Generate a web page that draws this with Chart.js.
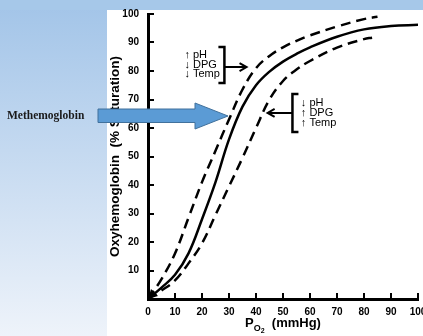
<!DOCTYPE html>
<html>
<head>
<meta charset="utf-8">
<script src="https://cdn.jsdelivr.net/npm/chart.js@4"></script>
<style>
  html, body { margin: 0; padding: 0; background: #fff; }
  canvas { display: block; }
</style>
</head>
<body>
<canvas id="odc" width="423" height="336"></canvas>
<script>
// oxygen dissociation curves
const po2Normal = [0, 5, 10, 15, 20, 25, 30, 35, 40, 45, 50, 55, 60, 70, 80, 90, 100];
const satNormal = [0, 4, 8.5, 16, 28, 41, 56, 67.5, 75, 79.8, 83.3, 86, 88.3, 92, 94.6, 95.8, 96.2];

const po2Left = [0, 5, 10, 15, 20, 25, 30, 35, 40, 45, 50, 55, 60, 70, 80, 85];
const satLeft = [0, 7, 16, 28.5, 41, 52, 63, 73.5, 81, 85.3, 88.3, 90.6, 92.5, 95.6, 98.2, 99];

const po2Right = [0, 5, 10, 15, 20, 25, 30, 35, 40, 45, 50, 55, 60, 70, 80, 83];
const satRight = [0, 3, 6.5, 12.5, 19.5, 29.5, 39.5, 49.5, 60, 70, 76.5, 80.5, 83.5, 88.2, 91.2, 91.7];

const xTicks = [0, 10, 20, 30, 40, 50, 60, 70, 80, 90, 100];
const yTicks = [10, 20, 30, 40, 50, 60, 70, 80, 90, 100];

const leftNotes = ['\u2191 pH', '\u2193 DPG', '\u2193 Temp'];
const rightNotes = ['\u2193 pH', '\u2191 DPG', '\u2191 Temp'];

const pts = (xs, ys) => xs.map((x, i) => ({ x: x, y: ys[i] }));

const lineStyle = {
  borderColor: '#000',
  borderWidth: 2.5,
  pointRadius: 0,
  fill: false,
  tension: 0.4
};

const backdrop = {
  id: 'backdrop',
  beforeDraw(chart) {
    const ctx = chart.ctx;
    const g = ctx.createLinearGradient(0, 0, 0, 336);
    g.addColorStop(0, '#a2c4e8');
    g.addColorStop(1, '#eef3fa');
    ctx.save();
    ctx.fillStyle = g;
    ctx.fillRect(0, 0, 423, 336);
    ctx.fillStyle = '#a6c8e9';
    ctx.fillRect(0, 0, 423, 10);
    ctx.fillStyle = '#fff';
    ctx.fillRect(107, 10, 316, 326);
    ctx.restore();
  }
};

const overlay = {
  id: 'overlay',
  afterDraw(chart) {
    const ctx = chart.ctx;
    const xs = chart.scales.x, ys = chart.scales.y;
    const px = v => xs.getPixelForValue(v);
    const py = v => ys.getPixelForValue(v);
    ctx.save();

    // arrowhead at the origin
    const ox = px(0), oy = py(0);
    ctx.fillStyle = '#000';
    ctx.beginPath();
    ctx.moveTo(ox, oy);
    ctx.lineTo(ox + 3, oy - 10);
    ctx.lineTo(ox + 10, oy - 3);
    ctx.closePath();
    ctx.fill();

    ctx.strokeStyle = '#000';
    ctx.lineWidth = 2.5;

    // left bracket + arrow
    let bx = px(28.3);
    ctx.beginPath();
    ctx.moveTo(bx - 6, py(88.4));
    ctx.lineTo(bx, py(88.4));
    ctx.lineTo(bx, py(75.8));
    ctx.lineTo(bx - 6, py(75.8));
    ctx.stroke();
    let ay = py(81.4), ax = px(36.5);
    ctx.lineWidth = 2;
    ctx.beginPath();
    ctx.moveTo(bx, ay);
    ctx.lineTo(ax, ay);
    ctx.moveTo(ax - 7, ay - 4);
    ctx.lineTo(ax, ay);
    ctx.lineTo(ax - 7, ay + 4);
    ctx.stroke();

    // right bracket + arrow
    bx = px(53.5);
    ctx.lineWidth = 2.5;
    ctx.beginPath();
    ctx.moveTo(bx + 6, py(71.9));
    ctx.lineTo(bx, py(71.9));
    ctx.lineTo(bx, py(58.6));
    ctx.lineTo(bx + 6, py(58.6));
    ctx.stroke();
    ay = py(65.3); ax = px(44.3);
    ctx.lineWidth = 2;
    ctx.beginPath();
    ctx.moveTo(bx, ay);
    ctx.lineTo(ax, ay);
    ctx.moveTo(ax + 7, ay - 4);
    ctx.lineTo(ax, ay);
    ctx.lineTo(ax + 7, ay + 4);
    ctx.stroke();

    ctx.fillStyle = '#000';
    ctx.font = '11px "Liberation Sans", Arial, sans-serif';
    ctx.textBaseline = 'middle';
    ctx.textAlign = 'left';
    [85.6, 82.1, 78.9].forEach((v, i) => ctx.fillText(leftNotes[i], px(13.5), py(v)));
    [68.8, 65.3, 61.8].forEach((v, i) => ctx.fillText(rightNotes[i], px(56.6), py(v)));

    // x axis title with subscript
    ctx.textBaseline = 'alphabetic';
    const big = 'bold 13px "Liberation Sans", Arial, sans-serif';
    const mid = 'bold 9px "Liberation Sans", Arial, sans-serif';
    const sml = 'bold 7px "Liberation Sans", Arial, sans-serif';
    const parts = [['P', big, 0], ['O', mid, 4], ['2', sml, 6], ['  (mmHg)', big, 0]];
    let w = 0;
    parts.forEach(p => { ctx.font = p[1]; w += ctx.measureText(p[0]).width; });
    let tx = (xs.left + xs.right) / 2 - w / 2;
    const base = 327;
    parts.forEach(p => {
      ctx.font = p[1];
      ctx.fillText(p[0], tx, base + p[2]);
      tx += ctx.measureText(p[0]).width;
    });

    // Methemoglobin label and blue arrow
    ctx.font = 'bold 11.5px "Liberation Serif", "Times New Roman", serif';
    ctx.fillStyle = '#1a1a1a';
    ctx.textBaseline = 'middle';
    ctx.fillText('Methemoglobin', 7, 116);
    ctx.fillStyle = '#5b9bd5';
    ctx.strokeStyle = '#41719c';
    ctx.lineWidth = 1;
    ctx.beginPath();
    ctx.moveTo(98, 109);
    ctx.lineTo(195, 109);
    ctx.lineTo(195, 103);
    ctx.lineTo(228, 116);
    ctx.lineTo(195, 129);
    ctx.lineTo(195, 122.5);
    ctx.lineTo(98, 122.5);
    ctx.closePath();
    ctx.fill();
    ctx.stroke();
    ctx.restore();
  }
};

new Chart(document.getElementById('odc'), {
  type: 'line',
  data: {
    datasets: [
      Object.assign({ label: 'Normal', data: pts(po2Normal, satNormal) }, lineStyle),
      Object.assign({ label: 'Left shift', data: pts(po2Left, satLeft), borderDash: [10, 6] }, lineStyle),
      Object.assign({ label: 'Right shift', data: pts(po2Right, satRight), borderDash: [10, 6] }, lineStyle)
    ]
  },
  options: {
    responsive: false,
    animation: false,
    layout: { padding: { top: 14, right: 5, left: 0, bottom: 0 } },
    plugins: { legend: { display: false }, tooltip: { enabled: false } },
    scales: {
      x: {
        type: 'linear',
        min: 0, max: 100,
        afterBuildTicks: s => { s.ticks = xTicks.map(v => ({ value: v })); },
        afterFit: s => { s.height = 37; s.paddingLeft = 0; s.paddingRight = 0; },
        border: { color: '#000', width: 3 },
        grid: { drawOnChartArea: false, drawTicks: true, tickLength: -6, color: '#000', lineWidth: 2 },
        ticks: {
          color: '#000', padding: 13, maxRotation: 0,
          font: { family: '"Liberation Sans", Arial, sans-serif', size: 10, weight: 'bold' }
        }
      },
      y: {
        type: 'linear',
        min: 0, max: 100,
        afterBuildTicks: s => { s.ticks = yTicks.map(v => ({ value: v })); },
        afterFit: s => { s.width = 148; s.paddingTop = 0; s.paddingBottom = 0; },
        border: { color: '#000', width: 3 },
        grid: { drawOnChartArea: false, drawTicks: true, tickLength: -6, color: '#000', lineWidth: 2 },
        ticks: {
          color: '#000', padding: 15,
          font: { family: '"Liberation Sans", Arial, sans-serif', size: 10, weight: 'bold' }
        },
        title: {
          display: true,
          text: 'Oxyhemoglobin  (% Saturation)',
          color: '#000',
          padding: { top: 107, bottom: 0 },
          font: { family: '"Liberation Sans", Arial, sans-serif', size: 13.5, weight: 'bold' }
        }
      }
    }
  },
  plugins: [backdrop, overlay]
});
</script>
</body>
</html>
